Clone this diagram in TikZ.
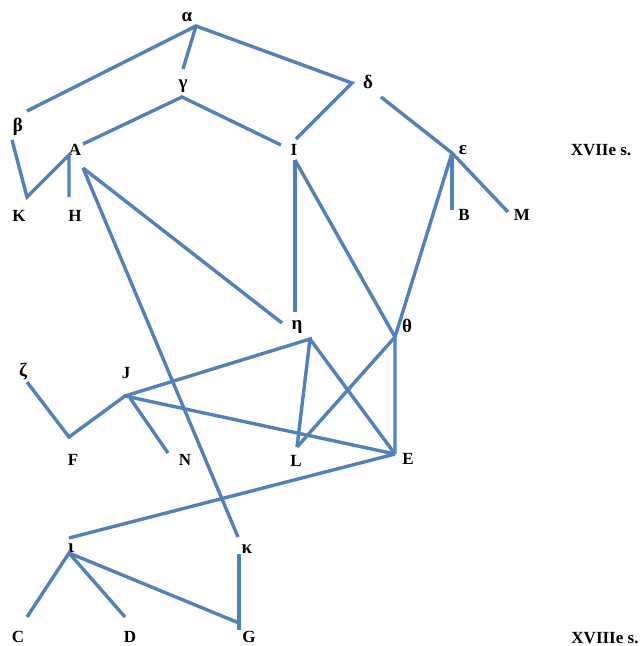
\documentclass[tikz,border=0pt]{standalone}
\usepackage{fontspec}
\setmainfont{Liberation Serif}
\begin{document}
\begin{tikzpicture}[x=1pt,y=-1pt,
  lab/.style={font=\bfseries\fontsize{17}{17}\selectfont, inner sep=0pt, anchor=center},
  edge/.style={draw={rgb,255:red,79;green,129;blue,189}, line width=3.4pt, line cap=butt, line join=miter}]
\useasboundingbox (0,0) rectangle (641,646);
% labels
\node[lab] (alpha) at (187,17) {\fontsize{19}{19}\selectfont α};
\node[lab] (beta) at (18,127) {\fontsize{19}{19}\selectfont β};
\node[lab] (gamma) at (183,86) {\fontsize{19}{19}\selectfont γ};
\node[lab] (delta) at (368,82) {\fontsize{19}{19}\selectfont δ};
\node[lab] (A) at (75,150) {A};
\node[lab] (I) at (294,150) {I};
\node[lab] (eps) at (463,150) {\fontsize{19}{19}\selectfont ε};
\node[lab] (K) at (19,216) {K};
\node[lab] (H) at (75,216) {H};
\node[lab] (B) at (464,215) {B};
\node[lab] (M) at (522,215) {M};
\node[lab] (s17) at (601,150) {XVIIe s.};
\node[lab] (eta) at (297,327) {\fontsize{19}{19}\selectfont η};
\node[lab] (theta) at (407,326) {\fontsize{19}{19}\selectfont θ};
\node[lab] (zeta) at (23,372) {\fontsize{19}{19}\selectfont ζ};
\node[lab] (J) at (126,373) {J};
\node[lab] (F) at (73,460) {F};
\node[lab] (N) at (185,460) {N};
\node[lab] (L) at (296,461) {L};
\node[lab] (E) at (408,459) {E};
\node[lab] (iota) at (71,548) {\fontsize{19}{19}\selectfont ι};
\node[lab] (kappa) at (247,549) {\fontsize{19}{19}\selectfont κ};
\node[lab] (C) at (18,637) {C};
\node[lab] (D) at (130,637) {D};
\node[lab] (G) at (249,637) {G};
\node[lab] (s18) at (605,638) {XVIIIe s.};
% line end points
\coordinate (aJ) at (196,26);
\coordinate (bT) at (27,111);
\coordinate (bB) at (12,140);
\coordinate (gT) at (183,69);
\coordinate (gJ) at (182,97);
\coordinate (dJ) at (352,83);
\coordinate (dB) at (381,97);
\coordinate (AT) at (83,144);
\coordinate (AJ) at (69,155);
\coordinate (AD) at (83,168);
\coordinate (IT) at (281,145);
\coordinate (IR) at (296,139);
\coordinate (IJ) at (295,160);
\coordinate (eJ) at (452,153);
\coordinate (KJ) at (27,197);
\coordinate (HT) at (69,197);
\coordinate (BT) at (452,210);
\coordinate (MT) at (508,212);
\coordinate (hT) at (295,312);
\coordinate (hL) at (282,323);
\coordinate (hJ) at (310,339);
\coordinate (tJ) at (395,337);
\coordinate (zB) at (27,382);
\coordinate (JJ) at (125,396);
\coordinate (JN) at (130,398);
\coordinate (FJ) at (69,437);
\coordinate (NT) at (168,453);
\coordinate (LJ) at (297,447);
\coordinate (EJ) at (395,454);
\coordinate (iT) at (69,538);
\coordinate (iJ) at (69,553);
\coordinate (kT) at (238,537);
\coordinate (kB) at (239,554);
\coordinate (CT) at (27,617);
\coordinate (DT) at (125,617);
\coordinate (GL) at (239,623);
\coordinate (GT) at (239,630);
% connectors
\draw[edge] (bT) -- (aJ) -- (dJ) -- (IR);
\draw[edge] (aJ) -- (gT);
\draw[edge] (AT) -- (gJ) -- (IT);
\draw[edge] (dB) -- (eJ) -- (MT);
\draw[edge] (eJ) -- (BT);
\draw[edge] (eJ) -- (tJ);
\draw[edge] (bB) -- (KJ) -- (AJ) -- (HT);
\draw[edge] (AD) -- (hL);
\draw[edge] (AD) -- (kT);
\draw[edge] (IJ) -- (hT);
\draw[edge] (IJ) -- (tJ) -- (EJ);
\draw[edge] (tJ) -- (LJ);
\draw[edge] (JJ) -- (hJ) -- (LJ);
\draw[edge] (hJ) -- (EJ);
\draw[edge] (zB) -- (FJ) -- (JJ) -- (EJ);
\draw[edge] (JN) -- (NT);
\draw[edge] (EJ) -- (iT);
\draw[edge] (CT) -- (iJ) -- (DT);
\draw[edge] (iJ) -- (GL);
\draw[edge] (kB) -- (GT);
\end{tikzpicture}
\end{document}
